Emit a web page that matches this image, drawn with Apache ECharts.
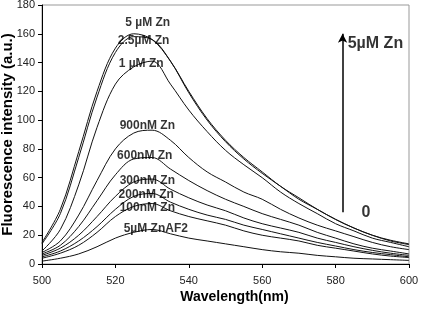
<!DOCTYPE html>
<html>
<head>
<meta charset="utf-8">
<script src="https://cdn.jsdelivr.net/npm/echarts@6/dist/echarts.min.js"></script>
<style>
  html, body { margin: 0; padding: 0; background: #fff; }
  #chart { width: 422px; height: 315px; }
</style>
</head>
<body>
<div id="chart"></div>
<script>
  // wavelength (nm)
  const wavelength = [500, 505, 510, 515, 520, 525, 530, 535, 540, 545, 550, 555, 560, 565, 570, 575, 580, 585, 590, 595, 600]

  // fluorescence intensity per Zn concentration
  const zn5uM   = [15, 38, 78, 120, 150, 160, 156, 141, 120, 101, 86, 74, 64, 54, 46, 38, 31, 25, 20, 16.5, 14]
  const zn2_5uM = [14, 35, 74, 116, 147, 158, 156, 141, 119, 100, 85, 73, 63, 54, 45, 38, 31, 25, 20, 16, 13.5]
  const zn1uM   = [9, 24, 55, 95, 125, 137, 141, 125, 107, 92, 79, 69, 60, 50, 42, 35, 28, 23, 18, 15, 12]
  const zn900nM = [8, 16, 34, 58, 80, 91, 93, 86, 74, 64, 57, 50, 45, 38, 32, 27, 23, 19, 15, 12, 10]
  const zn600nM = [7, 13, 26, 44, 62, 73, 74, 66, 58, 51, 45, 40, 35, 31, 27, 22, 18, 14, 11, 9, 7]
  const zn300nM = [6, 11, 20, 33, 47, 57, 59, 52, 46, 41, 37, 32, 28, 25, 22, 18, 15, 12, 9.5, 7.5, 6]
  const zn200nM = [5, 9, 16, 26, 38, 47, 49, 43, 38, 34, 31, 27, 24, 21, 18, 15, 12.5, 10, 8, 6.5, 5]
  const zn100nM = [4, 7.5, 13, 22, 33, 40, 42, 37, 33, 30, 27, 23, 20, 18, 16, 13, 11, 9, 7, 5.5, 4.5]
  const znAF2   = [2, 4, 7, 12, 18, 22, 24, 21, 18, 16, 14, 12, 10, 8.5, 7.5, 6, 5, 4, 3.5, 3, 2.5]

  const curves = [zn5uM, zn2_5uM, zn1uM, zn900nM, zn600nM, zn300nM, zn200nM, zn100nM, znAF2]

  // curve labels: [wavelength, intensity, text]
  const curveLabels = [
    [528.8, 167.5, '5 µM Zn'],
    [527.7, 155, '2.5µM Zn'],
    [527, 139, '1 µM Zn'],
    [528.7, 96, '900nM Zn'],
    [528, 75.5, '600nM Zn'],
    [528.7, 58, '300nM Zn'],
    [528.4, 48, '200nM Zn'],
    [528.7, 39, '100nM Zn'],
    [531, 24.5, '5µM ZnAF2']
  ]

  // arrow annotation
  const arrowFrom = [581.9, 36]
  const arrowTo = [581.9, 160]
  const arrowTop = [583.3, 153, '5µM Zn']
  const arrowBottom = [588.3, 35.5, '0']

  const xTicks = { min: 500, max: 600, interval: 20 }
  const yTicks = { min: 0, max: 180, interval: 20 }

  const font = 'Liberation Sans, Arial, sans-serif'

  let series = curves.map(vals => ({
    type: 'line',
    data: wavelength.map((w, i) => [w, vals[i]]),
    symbol: 'none',
    smooth: 0.35,
    lineStyle: { color: '#111', width: 1 },
    silent: true
  }))

  series.push({
    type: 'scatter',
    symbolSize: 0,
    silent: true,
    z: 10,
    data: curveLabels.map(d => ({ value: d })),
    label: {
      show: true,
      position: 'inside',
      formatter: p => p.value[2],
      color: '#000',
      fontFamily: font,
      fontWeight: 'bold',
      fontSize: 12
    },
    markLine: {
      silent: true,
      symbol: ['none', 'arrow'],
      symbolSize: [7, 9],
      label: { show: false },
      lineStyle: { color: '#000', width: 1.5, type: 'solid' },
      data: [[{ coord: arrowFrom }, { coord: arrowTo }]]
    }
  })

  series.push({
    type: 'scatter',
    symbolSize: 0,
    silent: true,
    z: 10,
    data: [
      { value: arrowTop, label: { align: 'left' } },
      { value: arrowBottom, label: { align: 'center' } }
    ],
    label: {
      show: true,
      position: 'inside',
      formatter: p => p.value[2],
      color: '#000',
      fontFamily: font,
      fontWeight: 'bold',
      fontSize: 16
    }
  })

  const option = {
    animation: false,
    backgroundColor: '#fff',
    grid: {
      left: 42, right: 13, top: 5, bottom: 51,
      containLabel: false,
      outerBoundsMode: 'none',
      show: true, borderColor: '#999', borderWidth: 1
    },
    xAxis: {
      type: 'value',
      min: xTicks.min, max: xTicks.max, interval: xTicks.interval,
      name: 'Wavelength(nm)',
      nameLocation: 'middle',
      nameGap: 26,
      nameMoveOverlap: false,
      nameTextStyle: { fontFamily: font, fontWeight: 'bold', fontSize: 14, color: '#000', padding: [0, 0, 0, 18] },
      axisLine: { lineStyle: { color: '#000', width: 1 } },
      axisTick: { show: true, length: 4, lineStyle: { color: '#000' } },
      axisLabel: { fontFamily: font, fontSize: 11, color: '#222', margin: 11 },
      splitLine: { show: false }
    },
    yAxis: {
      type: 'value',
      min: yTicks.min, max: yTicks.max, interval: yTicks.interval,
      name: 'Fluorescence intensity (a.u.)',
      nameLocation: 'middle',
      nameGap: 27,
      nameMoveOverlap: false,
      nameTextStyle: { fontFamily: font, fontWeight: 'bold', fontSize: 15, color: '#000' },
      axisLine: { show: true, lineStyle: { color: '#000', width: 1 } },
      axisTick: { show: true, length: 4, lineStyle: { color: '#000' } },
      axisLabel: { fontFamily: font, fontSize: 11, color: '#222', margin: 7 },
      splitLine: { show: false }
    },
    series: series
  }

  const myChart = echarts.init(document.getElementById('chart'))
  myChart.setOption(option)
</script>
</body>
</html>
